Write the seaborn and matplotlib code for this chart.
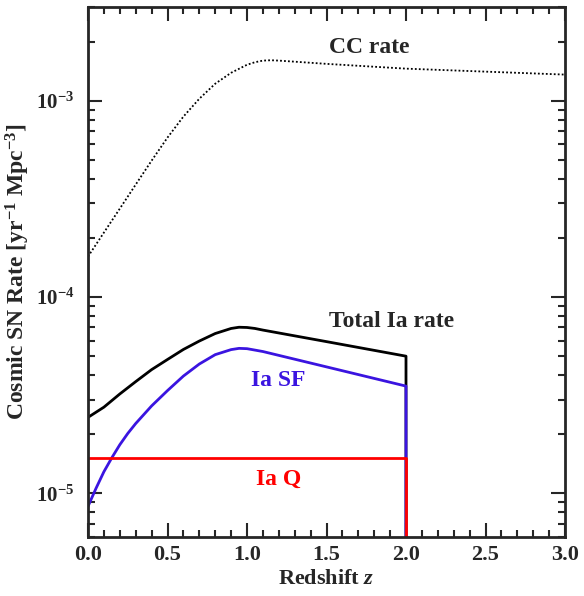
import numpy as np
import matplotlib
matplotlib.use("Agg")
import matplotlib.pyplot as plt
import seaborn as sns
from matplotlib.ticker import MultipleLocator, LogLocator, NullFormatter, FormatStrFormatter

# werte (rate in yr^-1 Mpc^-3)
z_cc = [0.0, 0.1, 0.2, 0.3, 0.4, 0.5, 0.6, 0.7, 0.8, 0.9, 1.0, 1.05, 1.1, 1.15,
        1.2, 1.3, 1.5, 2.0, 2.5, 3.0]
rate_cc = [1.607e-4, 2.13e-4, 2.82e-4, 3.74e-4, 4.95e-4, 6.49e-4, 8.30e-4, 1.023e-3,
           1.22e-3, 1.387e-3, 1.524e-3, 1.57e-3, 1.60e-3, 1.607e-3,
           1.60e-3, 1.58e-3, 1.54e-3, 1.456e-3, 1.406e-3, 1.358e-3]

z_tot = [0.0, 0.1, 0.2, 0.3, 0.4, 0.5, 0.6, 0.7, 0.8, 0.9, 0.95, 1.0, 1.05, 1.1,
         1.5, 2.0, 2.0]
rate_tot = [2.44e-5, 2.75e-5, 3.21e-5, 3.71e-5, 4.27e-5, 4.81e-5, 5.41e-5, 5.97e-5,
            6.52e-5, 6.92e-5, 7.02e-5, 7.00e-5, 6.92e-5, 6.79e-5,
            5.93e-5, 5.00e-5, 1e-9]

z_sf = [0.0, 0.05, 0.1, 0.15, 0.2, 0.25, 0.3, 0.4, 0.5, 0.6, 0.7, 0.8, 0.9, 0.95,
        1.0, 1.05, 1.1, 1.5, 2.0, 2.0]
rate_sf = [8.59e-6, 1.06e-5, 1.29e-5, 1.52e-5, 1.77e-5, 2.02e-5, 2.27e-5, 2.79e-5,
           3.34e-5, 3.96e-5, 4.56e-5, 5.09e-5, 5.40e-5, 5.48e-5,
           5.46e-5, 5.37e-5, 5.28e-5, 4.41e-5, 3.52e-5, 1e-9]

z_q = [0.0, 2.0, 2.0]
rate_q = [1.52e-5, 1.52e-5, 1e-9]

blau = "#3a14e0"
rot = "#ff0000"

sns.set_style("ticks")
plt.rcParams["font.family"] = ["Liberation Serif", "DejaVu Serif"]
plt.rcParams["font.weight"] = "bold"
plt.rcParams["axes.unicode_minus"] = False
plt.rcParams["mathtext.fontset"] = "custom"
plt.rcParams["mathtext.rm"] = "Liberation Serif:bold"
plt.rcParams["mathtext.bf"] = "Liberation Serif:bold"
plt.rcParams["mathtext.it"] = "Liberation Serif:style=italic:weight=bold"

fig = plt.figure(figsize=(5.84, 5.96), dpi=100)
ax = fig.add_axes([88 / 584, 1 - 537 / 596, (565 - 88) / 584, (537 - 7) / 596])

sns.lineplot(x=z_cc, y=rate_cc, ax=ax, color="black", linestyle=(0, (1, 1.2)), lw=1.3,
             estimator=None, sort=False)
sns.lineplot(x=z_tot, y=rate_tot, ax=ax, color="black", lw=2, estimator=None, sort=False)
sns.lineplot(x=z_sf, y=rate_sf, ax=ax, color=blau, lw=2, estimator=None, sort=False)
sns.lineplot(x=z_q, y=rate_q, ax=ax, color=rot, lw=2, estimator=None, sort=False)

ax.set_yscale("log")
ax.set_xlim(0, 3)
ax.set_ylim(6e-6, 3e-3)

ax.xaxis.set_major_locator(MultipleLocator(0.5))
ax.xaxis.set_minor_locator(MultipleLocator(0.1))
ax.xaxis.set_major_formatter(FormatStrFormatter("%.1f"))
ax.yaxis.set_major_locator(LogLocator(base=10))
ax.yaxis.set_minor_locator(LogLocator(base=10, subs=np.arange(2, 10)))
ax.yaxis.set_minor_formatter(NullFormatter())

ax.tick_params(which="both", direction="in", top=True, right=True, width=1.5)
ax.tick_params(which="major", length=10)
ax.tick_params(which="minor", length=5)
ax.tick_params(axis="x", which="major", pad=6, labelsize=16)
ax.tick_params(axis="y", which="major", pad=10, labelsize=15)
for s in ax.spines.values():
    s.set_linewidth(2)

ax.set_xlabel("Redshift $\\mathit{z}$", fontsize=16, fontweight="bold", labelpad=3)
ax.set_ylabel("Cosmic SN Rate [yr$^{-1}$ Mpc$^{-3}$]", fontsize=17, fontweight="bold")
ax.yaxis.set_label_coords(-0.118, 0.5)

# beschriftungen der kurven
ax.text(1.77, 1.86e-3, "CC rate", fontsize=17, fontweight="bold", ha="center", va="center")
ax.text(1.91, 7.5e-5, "Total Ia rate", fontsize=17, fontweight="bold", ha="center", va="center")
ax.text(1.195, 3.76e-5, "Ia SF", fontsize=17, fontweight="bold", color=blau, ha="center", va="center")
ax.text(1.2, 1.18e-5, "Ia Q", fontsize=17, fontweight="bold", color=rot, ha="center", va="center")

plt.savefig("out.png", dpi=100)
